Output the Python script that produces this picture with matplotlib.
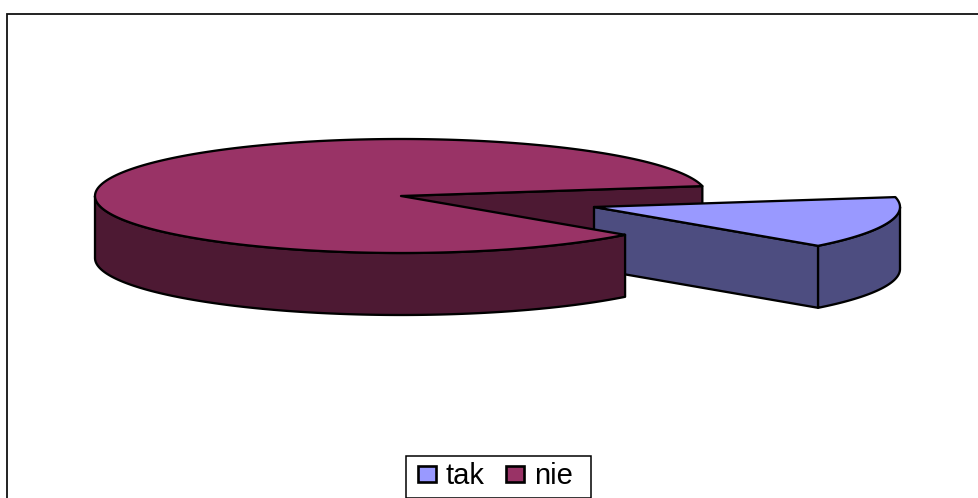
import numpy as np
import matplotlib
matplotlib.use("Agg")
import matplotlib.pyplot as plt
from matplotlib.patches import Polygon, Rectangle

categories = ["tak", "nie"]
values = [14.7, 85.3]
top_colors = ["#9999FF", "#993366"]
side_colors = ["#4D4D80", "#4D1933"]

plt.rcParams["font.family"] = ["Liberation Sans", "DejaVu Sans"]

W, H = 979, 498
fig = plt.figure(figsize=(W / 100, H / 100), dpi=100, facecolor="white")
ax = fig.add_axes([0, 0, 1, 1])
ax.set_xlim(0, W)
ax.set_ylim(H, 0)
ax.axis("off")

CX, CY = 401.0, 196.0
RX, RY = 306.0, 57.0
DEPTH = 62.0
EXPLODE = (193.0, 11.0)
START = 10.0
LW = 1.65


def rim(cx, cy, a0, a1, n=160):
    a = np.radians(np.linspace(a0, a1, n))
    return np.column_stack([cx + RX * np.cos(a), cy - RY * np.sin(a)])


def poly(pts, color, z):
    ax.add_patch(Polygon(pts, closed=True, facecolor=color, edgecolor="black",
                         linewidth=LW, joinstyle="round", zorder=z))


sweep = [v / sum(values) * 360 for v in values]
tak_a0 = START - sweep[0]
tak_a1 = START
nie_a0 = START
nie_a1 = START + sweep[1]
down = np.array([0, DEPTH])

# frame
ax.add_patch(Rectangle((7.5, 14), W, H, facecolor="white", edgecolor="#111111",
                       linewidth=1.3, zorder=0))

# inner wall of the large slice, seen through the gap
upper = rim(CX, CY, nie_a0, nie_a0, 1)[0]
centre = np.array([CX, CY])
poly([centre, upper, upper + down, centre + down], side_colors[1], 1)

# exploded slice
tx, ty = CX + EXPLODE[0], CY + EXPLODE[1]
apex = np.array([tx, ty])
lower = rim(tx, ty, tak_a0, tak_a0, 1)[0]
poly([apex, lower, lower + down, apex + down], side_colors[0], 2)
arc = rim(tx, ty, tak_a0, 0)
poly(np.vstack([arc, arc[::-1] + down]), side_colors[0], 2)
poly(np.vstack([[apex], rim(tx, ty, tak_a0, tak_a1)]), top_colors[0], 3)

# large slice: outer wall and top
arc = rim(CX, CY, 180, nie_a1)
poly(np.vstack([arc, arc[::-1] + down]), side_colors[1], 4)
poly(np.vstack([[centre], rim(CX, CY, nie_a0, nie_a1, 400)]), top_colors[1], 5)

# legend box and legend
ax.add_patch(Rectangle((406, 456), 185, 41.5, facecolor="white", edgecolor="black",
                       linewidth=1.1, zorder=9))
handles = [Rectangle((0, 0), 1, 1, facecolor=c, edgecolor="black", linewidth=1.9)
           for c in top_colors]
leg = ax.legend(handles, categories, ncol=2, loc="center left",
                bbox_to_anchor=(418, 476), bbox_transform=ax.transData,
                borderaxespad=0, frameon=False, fontsize=21,
                handlelength=0.62, handleheight=0.48,
                handletextpad=0.34, columnspacing=0.72, borderpad=0,
                labelcolor="black")
leg.set_zorder(10)

fig.savefig("out.png", dpi=100)
